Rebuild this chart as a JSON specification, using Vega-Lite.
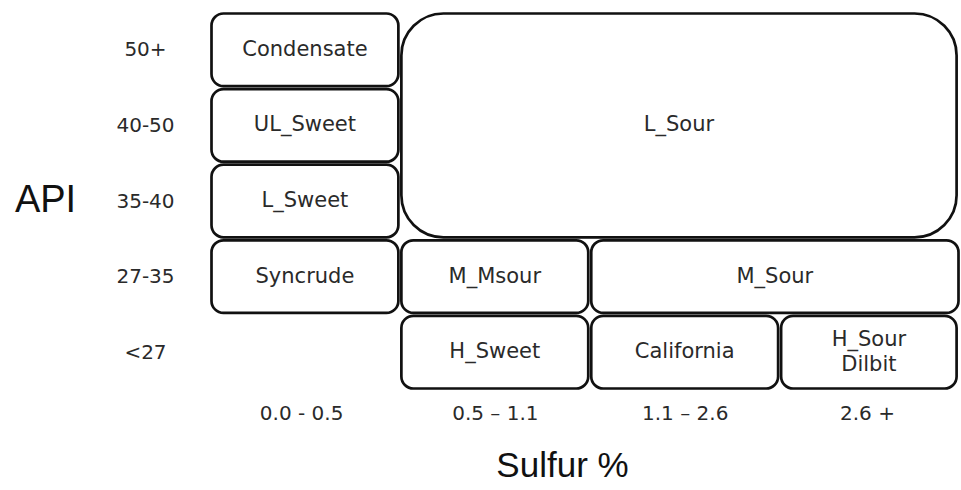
{
  "$schema": "https://vega.github.io/schema/vega-lite/v6.json",
  "width": 750,
  "height": 378,
  "autosize": "none",
  "padding": {"left": 210, "top": 12, "right": 1, "bottom": 100},
  "background": "white",
  "config": {"view": {"stroke": null}},
  "data": {
    "values": [
      {"name": "Condensate", "c0": 0, "c1": 1, "r0": 0, "r1": 1, "big": false},
      {"name": "UL_Sweet", "c0": 0, "c1": 1, "r0": 1, "r1": 2, "big": false},
      {"name": "L_Sweet", "c0": 0, "c1": 1, "r0": 2, "r1": 3, "big": false},
      {"name": "Syncrude", "c0": 0, "c1": 1, "r0": 3, "r1": 4, "big": false},
      {"name": "L_Sour", "c0": 1, "c1": 3.94, "r0": 0, "r1": 3, "big": true},
      {"name": "M_Msour", "c0": 1, "c1": 2, "r0": 3, "r1": 4, "big": false},
      {"name": "M_Sour", "c0": 2, "c1": 3.95, "r0": 3, "r1": 4, "big": false},
      {"name": "H_Sweet", "c0": 1, "c1": 2, "r0": 4, "r1": 5, "big": false},
      {"name": "California", "c0": 2, "c1": 3, "r0": 4, "r1": 5, "big": false},
      {"name": "H_Sour\nDilbit", "c0": 3, "c1": 3.94, "r0": 4, "r1": 5, "big": false}
    ]
  },
  "transform": [
    {"calculate": "(datum.c0 + datum.c1) / 2", "as": "cx"},
    {"calculate": "(datum.r0 + datum.r1) / 2", "as": "cy"}
  ],
  "layer": [
    {
      "transform": [{"filter": "!datum.big"}],
      "mark": {"type": "rect", "fill": "white", "stroke": "#111", "strokeWidth": 2.7, "cornerRadius": 12,
               "xOffset": 1.5, "x2Offset": -1.5, "yOffset": 1.5, "y2Offset": -1.5},
      "encoding": {
        "x": {"field": "c0", "type": "quantitative", "scale": {"domain": [0, 3.95], "nice": false, "zero": false},
              "axis": {"values": [0.48, 1.5, 2.5, 3.46],
                       "labelExpr": "datum.value < 1 ? '0.0 - 0.5' : datum.value < 2 ? '0.5 – 1.1' : datum.value < 3 ? '1.1 – 2.6' : '2.6 +'",
                       "domain": false, "ticks": false, "grid": false, "labelOverlap": false, "labelFlush": false,
                       "labelPadding": 13, "labelFontSize": 20, "labelFont": "DejaVu Sans", "labelColor": "#2a2a2a",
                       "title": "Sulfur %", "titleFontSize": 35, "titleFont": "Liberation Sans", "titleFontWeight": "normal",
                       "titleX": 352, "titleY": 75, "titleBaseline": "middle", "titleAlign": "center", "titleColor": "#111"}},
        "x2": {"field": "c1"},
        "y": {"field": "r0", "type": "quantitative", "scale": {"domain": [0, 5], "reverse": true, "nice": false, "zero": false},
              "axis": {"values": [0.5, 1.5, 2.5, 3.5, 4.5],
                       "labelExpr": "['50+','40-50','35-40','27-35','<27'][floor(datum.value)]",
                       "domain": false, "ticks": false, "grid": false, "labelOverlap": false, "labelFlush": false,
                       "labelAlign": "center", "labelPadding": 65, "labelFontSize": 20, "labelFont": "DejaVu Sans", "labelColor": "#2a2a2a",
                       "title": "API", "titleAngle": 0, "titleX": -165, "titleY": 188, "titleAlign": "center", "titleBaseline": "middle",
                       "titleFontSize": 38, "titleFont": "Liberation Sans", "titleFontWeight": "normal", "titleColor": "#111"}},
        "y2": {"field": "r1"}
      }
    },
    {
      "transform": [{"filter": "datum.big"}],
      "mark": {"type": "rect", "fill": "white", "stroke": "#111", "strokeWidth": 2.7, "cornerRadius": 42,
               "xOffset": 1.5, "x2Offset": -1.5, "yOffset": 1.5, "y2Offset": -1.5},
      "encoding": {
        "x": {"field": "c0", "type": "quantitative"},
        "x2": {"field": "c1"},
        "y": {"field": "r0", "type": "quantitative"},
        "y2": {"field": "r1"}
      }
    },
    {
      "transform": [{"filter": "indexof(datum.name, '\\n') < 0"}],
      "mark": {"type": "text", "font": "DejaVu Sans", "fontSize": 21, "color": "#2a2a2a", "baseline": "middle", "align": "center"},
      "encoding": {
        "x": {"field": "cx", "type": "quantitative"},
        "y": {"field": "cy", "type": "quantitative"},
        "text": {"field": "name", "type": "nominal"}
      }
    },
    {
      "transform": [{"filter": "indexof(datum.name, '\\n') >= 0"}],
      "mark": {"type": "text", "font": "DejaVu Sans", "fontSize": 21, "color": "#2a2a2a", "lineBreak": "\n", "lineHeight": 25, "baseline": "middle", "align": "center", "dy": -12.5},
      "encoding": {
        "x": {"field": "cx", "type": "quantitative"},
        "y": {"field": "cy", "type": "quantitative"},
        "text": {"field": "name", "type": "nominal"}
      }
    }
  ]
}
